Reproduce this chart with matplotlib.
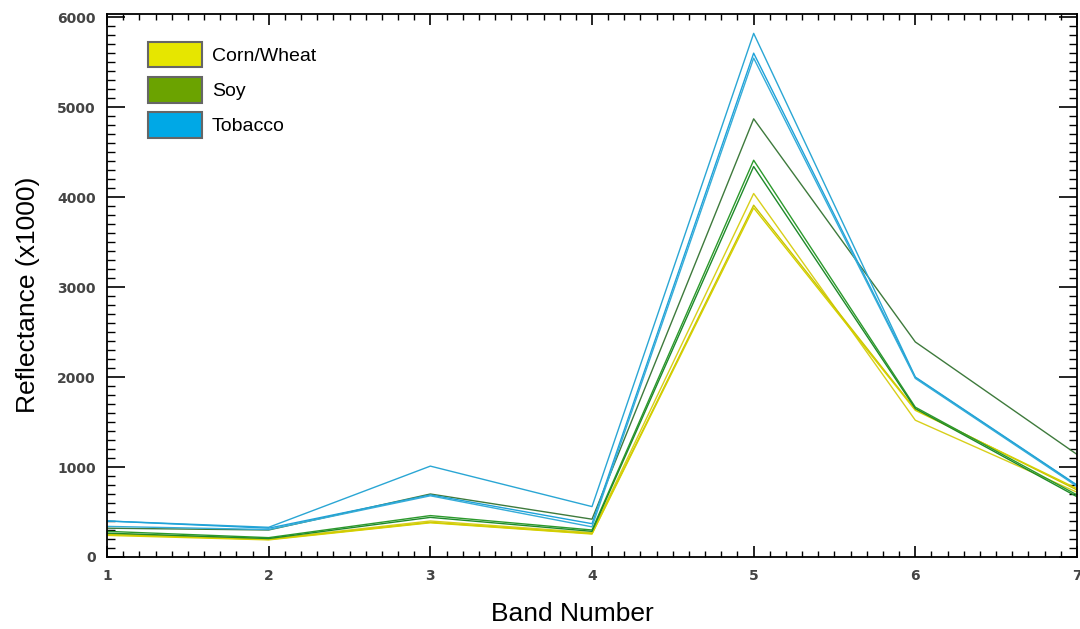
import matplotlib.pyplot as plt
from matplotlib.patches import Patch
from matplotlib.ticker import MultipleLocator

bands = [1, 2, 3, 4, 5, 6, 7]

# reflectance (x1000) per pixel sample
corn_wheat = [
    [260, 200, 400, 270, 4040, 1520, 720],
    [250, 195, 385, 260, 3910, 1640, 745],
    [240, 190, 380, 255, 3880, 1630, 760],
]
soy = [
    [320, 300, 700, 420, 4870, 2390, 1140],
    [285, 215, 460, 300, 4410, 1665, 690],
    [265, 205, 440, 285, 4340, 1650, 670],
]
tobacco = [
    [400, 330, 1010, 560, 5820, 2000, 800],
    [400, 320, 690, 370, 5600, 1995, 795],
    [340, 305, 680, 335, 5545, 1985, 785],
]

legend_labels = ["Corn/Wheat", "Soy", "Tobacco"]
legend_colors = ["#E6E600", "#6BA300", "#00A8E6"]

corn_colors = ["#D8CF1A", "#C9C400", "#D4D000"]
soy_colors = ["#3E7A3C", "#2C9A2C", "#1F8A2A"]
tob_colors = ["#2AA6D4", "#1EA2DA", "#35ACD8"]

fig = plt.figure(figsize=(10.8, 6.29), dpi=100)
ax = fig.add_axes([0.0991, 0.1145, 0.8981, 0.8625])

for vals, c in zip(corn_wheat, corn_colors):
    ax.plot(bands, vals, color=c, lw=1.0)
for vals, c in zip(soy, soy_colors):
    ax.plot(bands, vals, color=c, lw=1.0)
for vals, c in zip(tobacco, tob_colors):
    ax.plot(bands, vals, color=c, lw=1.0)

ax.set_xlim(1, 7)
ax.set_ylim(0, 6030)
ax.xaxis.set_major_locator(MultipleLocator(1))
ax.xaxis.set_minor_locator(MultipleLocator(0.1))
ax.yaxis.set_major_locator(MultipleLocator(1000))
ax.yaxis.set_minor_locator(MultipleLocator(100))

ax.tick_params(axis="both", which="both", direction="in", top=True, right=True, color="black")
ax.tick_params(axis="x", which="major", length=8, width=1.2, pad=9)
ax.tick_params(axis="x", which="minor", length=4, width=1.0)
ax.tick_params(axis="y", which="major", length=13, width=1.2, pad=8)
ax.tick_params(axis="y", which="minor", length=6, width=1.0)

for lab in ax.get_xticklabels() + ax.get_yticklabels():
    lab.set_fontweight("bold")
    lab.set_fontsize(10)
    lab.set_color("#444444")
    lab.set_family("DejaVu Sans")

for sp in ax.spines.values():
    sp.set_linewidth(1.3)

ax.set_xlabel("Band Number", fontsize=19, family="Liberation Sans")
ax.set_ylabel("Reflectance (x1000)", fontsize=19, family="Liberation Sans")
ax.xaxis.set_label_coords(0.48, -0.083)
ax.yaxis.set_label_coords(-0.069, 0.484)

handles = [Patch(facecolor=c, edgecolor="#666666", linewidth=1.5) for c in legend_colors]
ax.legend(handles, legend_labels, loc="upper left", bbox_to_anchor=(0.042, 0.95),
          frameon=False, borderaxespad=0, borderpad=0,
          prop={"family": "Liberation Sans", "size": 14},
          handlelength=2.8, handleheight=1.65, handletextpad=0.5, labelspacing=0.5)

fig.savefig("out.png", dpi=100)
